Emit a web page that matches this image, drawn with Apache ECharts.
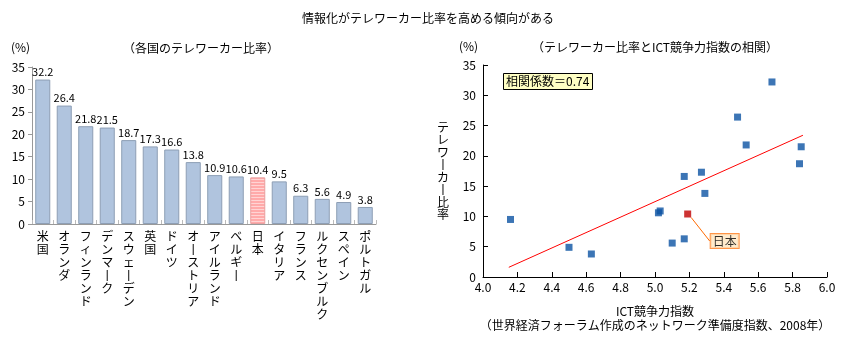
<!DOCTYPE html>
<html>
<head>
<meta charset="utf-8">
<script src="https://cdn.jsdelivr.net/npm/echarts@6/dist/echarts.min.js"></script>
<style>
  html, body { margin: 0; padding: 0; background: #fff; }
  #chart { width: 846px; height: 339px; }
</style>
</head>
<body>
<div id="chart"></div>
<script>
// Telework ratio by country (%) and ICT competitiveness index (NRI 2008)
const countries = ['米国','オランダ','フィンランド','デンマーク','スウェーデン','英国','ドイツ','オーストリア','アイルランド','ベルギー','日本','イタリア','フランス','ルクセンブルク','スペイン','ポルトガル'];
const teleworkRates = [32.2, 26.4, 21.8, 21.5, 18.7, 17.3, 16.6, 13.8, 10.9, 10.6, 10.4, 9.5, 6.3, 5.6, 4.9, 3.8];
const ictIndex = [5.68, 5.48, 5.53, 5.85, 5.84, 5.27, 5.17, 5.29, 5.03, 5.02, 5.19, 4.16, 5.17, 5.10, 4.50, 4.63];
const trendLine = [[4.15, 1.6], [5.86, 23.4]];
const correlation = 0.74;
const highlight = '日本';

const FONT = '"Noto Sans CJK JP", sans-serif';

// striped pink fill for the highlighted bar
const stripe = document.createElement('canvas');
stripe.width = 4; stripe.height = 3;
const sctx = stripe.getContext('2d');
sctx.fillStyle = '#ffaaaa'; sctx.fillRect(0, 0, 4, 3);
sctx.fillStyle = '#ffd4d4'; sctx.fillRect(0, 2, 4, 1);

// vertical label: one character per line, long vowel mark drawn as an upright stroke
function verticalText(s) {
  return s.split('').map(c => c === 'ー' ? '丨' : c).join('\n');
}

const barData = teleworkRates.map((v, i) => countries[i] === highlight
  ? { value: v, itemStyle: { color: { image: stripe, repeat: 'repeat' }, borderColor: '#e8a0a0' } }
  : v);

const scatterOthers = [];
const scatterHighlight = [];
countries.forEach((c, i) => {
  const p = [ictIndex[i], teleworkRates[i]];
  if (c === highlight) scatterHighlight.push(p); else scatterOthers.push(p);
});

const chart = echarts.init(document.getElementById('chart'), null, { renderer: 'canvas' });

chart.setOption({
  animation: false,
  textStyle: { fontFamily: FONT, color: '#000' },
  title: [
    { text: '情報化がテレワーカー比率を高める傾向がある', left: 423, top: 7, textAlign: 'center',
      textStyle: { fontSize: 12, fontWeight: 'normal', fontFamily: FONT, color: '#000' } },
    { text: '（各国のテレワーカー比率）', left: 196, top: 37, textAlign: 'center',
      textStyle: { fontSize: 12, fontWeight: 'normal', fontFamily: FONT, color: '#000' } },
    { text: '（テレワーカー比率とICT競争力指数の相関）', left: 650, top: 36, textAlign: 'center',
      textStyle: { fontSize: 12, fontWeight: 'normal', fontFamily: FONT, color: '#000' } },
    { text: '相関係数＝' + correlation.toFixed(2), left: 503, top: 73, padding: [1, 3],
      backgroundColor: '#ffffc4', borderColor: '#000', borderWidth: 1,
      textStyle: { fontSize: 12, fontWeight: 'normal', fontFamily: FONT, color: '#000', lineHeight: 15 } }
  ],
  graphic: [
    { type: 'text', left: 11, top: 41, style: { text: '(%)', fontSize: 12, fontFamily: FONT, fill: '#000' } },
    { type: 'text', left: 459, top: 40, style: { text: '(%)', fontSize: 12, fontFamily: FONT, fill: '#000' } }
  ],
  grid: [
    { left: 32, right: 470, top: 67, bottom: 115 },
    { left: 483, right: 19, top: 65, bottom: 62 }
  ],
  xAxis: [
    {
      gridIndex: 0, type: 'category', data: countries,
      axisLine: { lineStyle: { color: '#999' } },
      axisTick: { show: true, inside: true, length: 4, interval: 0, lineStyle: { color: '#bbb' } },
      axisLabel: { interval: 0, formatter: verticalText, fontSize: 12, lineHeight: 13,
        verticalAlign: 'top', margin: 6, color: '#000', fontFamily: FONT }
    },
    {
      gridIndex: 1, type: 'value', min: 4.0, max: 6.0, interval: 0.2,
      name: 'ICT競争力指数\n（世界経済フォーラム作成のネットワーク準備度指数、2008年）',
      nameLocation: 'middle', nameGap: 27,
      nameTextStyle: { fontSize: 12, lineHeight: 14, color: '#000', fontFamily: FONT },
      axisLine: { lineStyle: { color: '#000' } },
      axisTick: { inside: true, length: 5, lineStyle: { color: '#000' } },
      splitLine: { show: false },
      axisLabel: { formatter: v => v.toFixed(1), fontSize: 12, margin: 4, color: '#000', fontFamily: FONT }
    }
  ],
  yAxis: [
    {
      gridIndex: 0, type: 'value', min: 0, max: 35, interval: 5,
      axisLine: { show: true, lineStyle: { color: '#999' } },
      axisTick: { show: true, length: 4, lineStyle: { color: '#999' } },
      splitLine: { show: false },
      axisLabel: { fontSize: 12, margin: 7, color: '#000', fontFamily: FONT }
    },
    {
      gridIndex: 1, type: 'value', min: 0, max: 35, interval: 5,
      name: verticalText('テレワーカー比率'), nameLocation: 'middle', nameRotate: 0, nameGap: 34,
      nameTextStyle: { fontSize: 12, lineHeight: 12.5, color: '#000', fontFamily: FONT, align: 'right' },
      axisLine: { show: true, lineStyle: { color: '#000' } },
      axisTick: { show: true, inside: true, length: 5, lineStyle: { color: '#000' } },
      splitLine: { show: false },
      axisLabel: { fontSize: 12, margin: 7, color: '#000', fontFamily: FONT }
    }
  ],
  series: [
    {
      type: 'bar', xAxisIndex: 0, yAxisIndex: 0, data: barData,
      barCategoryGap: '30%',
      itemStyle: { color: '#b0c4de', borderColor: '#8e9fb5', borderWidth: 1 },
      label: { show: true, position: 'top', distance: 2, fontSize: 11, color: '#000', fontFamily: FONT }
    },
    {
      type: 'line', xAxisIndex: 1, yAxisIndex: 1, data: trendLine,
      showSymbol: false, symbol: 'none', silent: true,
      lineStyle: { color: '#ff0000', width: 1 }
    },
    {
      type: 'scatter', xAxisIndex: 1, yAxisIndex: 1, data: scatterOthers,
      symbol: 'rect', symbolSize: 7, itemStyle: { color: '#0b52a2' }
    },
    {
      type: 'scatter', xAxisIndex: 1, yAxisIndex: 1, data: scatterHighlight,
      symbol: 'rect', symbolSize: 7, itemStyle: { color: '#c00000' },
      label: {
        show: true, position: 'inside', formatter: highlight, fontSize: 12, color: '#000', fontFamily: FONT,
        backgroundColor: '#ffe6c0', borderColor: '#ff7a1a', borderWidth: 1, padding: [1, 2]
      },
      labelLayout: { dx: 37, dy: 27 },
      labelLine: { show: true, lineStyle: { color: '#ff6a00', width: 1 } }
    }
  ]
});
</script>
</body>
</html>
